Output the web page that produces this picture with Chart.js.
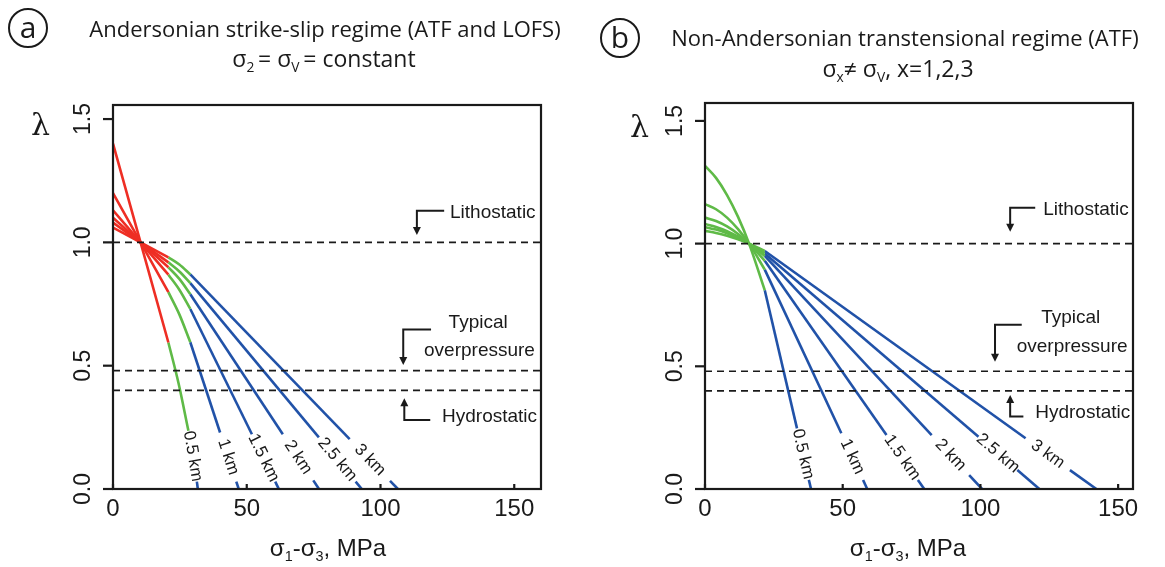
<!DOCTYPE html>
<html>
<head>
<meta charset="utf-8">
<script src="https://cdn.jsdelivr.net/npm/chart.js@4.4.1/dist/chart.umd.min.js"></script>
<style>
    body { margin: 0; background: #fff; width: 1165px; height: 567px; position: relative; overflow: hidden; }
    canvas { position: absolute; top: 0; }
    #chartA { left: 0; }
    #chartB { left: 580px; }
    .title { position: absolute; font-family: "Open Sans", Lato, sans-serif; font-size: 22px; color: #1a1a1a;
             white-space: nowrap; transform: translateX(-50%); line-height: 26px; }
    .sub2 { font-size: 23px; }
    .circ { position: absolute; width: 36px; height: 36px; border: 2px solid #1a1a1a; border-radius: 50%;
            font-family: "Open Sans", Lato, sans-serif; font-size: 30px; line-height: 33px; text-align: center; color: #1a1a1a; }
    .xtitle { position: absolute; font-family: "Liberation Sans", Arial, sans-serif; font-size: 24px; color: #1a1a1a;
              white-space: nowrap; transform: translateX(-50%); line-height: 26px; }
    .lam { position: absolute; font-family: "DejaVu Serif", serif; font-size: 30px; color: #1a1a1a; line-height: 30px; }
    sub { font-size: 60%; vertical-align: -0.35em; line-height: 0; }
</style>
</head>
<body>
<canvas id="chartA" width="580" height="567"></canvas>
<canvas id="chartB" width="585" height="567"></canvas>

<div class="circ" style="left:8px; top:8px;">a</div>
<div class="title" style="left:325px; top:15px;">Andersonian strike-slip regime (ATF and LOFS)</div>
<div class="title sub2" style="left:324px; top:45px;">σ<sub>2</sub>&thinsp;= σ<sub>V</sub>&thinsp;= constant</div>
<div class="circ" style="left:600px; top:18px;">b</div>
<div class="title" style="left:905px; top:24px;">Non-Andersonian transtensional regime (ATF)</div>
<div class="title sub2" style="left:898px; top:55px;">σ<sub>x</sub>≠ σ<sub>V</sub>, x=1,2,3</div>

<div class="lam" style="left:31px; top:110px;">λ</div>
<div class="lam" style="left:630px; top:112px;">λ</div>
<div class="xtitle" style="left:328px; top:535px;">σ<sub>1</sub>-σ<sub>3</sub>, MPa</div>
<div class="xtitle" style="left:908px; top:535px;">σ<sub>1</sub>-σ<sub>3</sub>, MPa</div>

<script>
const depthLabels = ['0.5 km', '1 km', '1.5 km', '2 km', '2.5 km', '3 km'];
const xTicks = [0, 50, 100, 150];
const yTicks = [0, 0.5, 1.0, 1.5];
const yTickLabels = ['0.0', '0.5', '1.0', '1.5'];
const levels = [1.0, 0.48, 0.40]; // lithostatic, typical overpressure, hydrostatic

// panel a: Andersonian strike-slip, [sigma1-sigma3 (MPa), lambda]
const aRed = [
    [[0, 1.40], [10.3, 1.0], [20.7, 0.594]],
    [[0, 1.20], [10.3, 1.0], [20.7, 0.798]],
    [[0, 1.13], [10.3, 1.0], [20.7, 0.869]],
    [[0, 1.10], [10.3, 1.0], [20.7, 0.899]],
    [[0, 1.08], [10.3, 1.0], [20.7, 0.919]],
    [[0, 1.06], [10.3, 1.0], [20.7, 0.939]]
];
const aGreen = [
    [[20.7, 0.594], [24.5, 0.429], [28.2, 0.236]],
    [[20.7, 0.798], [24.8, 0.708], [28.9, 0.595]],
    [[20.7, 0.869], [24.8, 0.808], [28.9, 0.730]],
    [[20.7, 0.899], [24.8, 0.852], [28.9, 0.790]],
    [[20.7, 0.919], [24.8, 0.882], [28.9, 0.835]],
    [[20.7, 0.939], [24.8, 0.910], [28.9, 0.870]]
];
const aBlueUpper = [
    [],
    [[28.9, 0.595], [40.03, 0.229]],
    [[28.9, 0.730], [51.93, 0.222]],
    [[28.9, 0.790], [63.48, 0.222]],
    [[28.9, 0.835], [76.96, 0.209]],
    [[28.9, 0.870], [88.48, 0.202]]
];
const aBlueLower = [
    [[31.35, 0.03], [31.7, 0]],
    [[46.09, 0.03], [47.0, 0]],
    [[60.64, 0.03], [62.0, 0]],
    [[74.87, 0.035], [77.0, 0]],
    [[90.7, 0.03], [93.0, 0]],
    [[103.56, 0.033], [106.5, 0]]
];

// panel b: non-Andersonian transtensional
const bGreen = [
    [[0, 1.317], [4, 1.268], [8, 1.198], [12, 1.109], [16, 1.0], [21.7, 0.81]],
    [[0, 1.161], [4, 1.140], [8, 1.106], [12, 1.059], [16, 1.0], [21.7, 0.894]],
    [[0, 1.106], [4, 1.092], [8, 1.070], [12, 1.039], [16, 1.0], [21.7, 0.93]],
    [[0, 1.080], [4, 1.068], [8, 1.051], [12, 1.028], [16, 1.0], [21.7, 0.95]],
    [[0, 1.067], [4, 1.057], [8, 1.042], [12, 1.023], [16, 1.0], [21.7, 0.96]],
    [[0, 1.052], [4, 1.0435], [8, 1.032], [12, 1.0175], [16, 1.0], [21.7, 0.97]]
];
const bBlueUpper = [
    [[21.7, 0.81], [33.4, 0.247]],
    [[21.7, 0.894], [49.5, 0.227]],
    [[21.7, 0.93], [65.9, 0.22]],
    [[21.7, 0.95], [82.3, 0.22]],
    [[21.7, 0.96], [99.3, 0.213]],
    [[21.7, 0.97], [116.4, 0.207]]
];
const bBlueLower = [
    [[37.7, 0.037], [38.5, 0]],
    [[57.4, 0.037], [58.9, 0]],
    [[77.3, 0.037], [79.6, 0]],
    [[95.9, 0.057], [100.6, 0]],
    [[113.4, 0.077], [121.4, 0]],
    [[132.5, 0.077], [142.1, 0]]
];

const RED = '#ee2e24';
const GREEN = '#5fba47';
const BLUE = '#2152a8';
const INK = '#1a1a1a';
const FONT = '"Liberation Sans", Arial, sans-serif';

// annotation arrows/texts, placed in data coordinates
const aNotes = {
    arrows: [
        { corner: [113.6, 1.128], end: [123.8, 1.128], tip: [113.6, 1.030] },
        { corner: [108.5, 0.647], end: [118.9, 0.647], tip: [108.5, 0.503] },
        { corner: [108.9, 0.280], end: [118.6, 0.280], tip: [108.9, 0.368] }
    ],
    texts: [
        { t: 'Lithostatic', at: [126, 1.119], align: 'left' },
        { t: 'Typical', at: [136.5, 0.673], align: 'center' },
        { t: 'overpressure', at: [137, 0.559], align: 'center' },
        { t: 'Hydrostatic', at: [123, 0.293], align: 'left' }
    ]
};
const bNotes = {
    arrows: [
        { corner: [110.8, 1.146], end: [119.9, 1.146], tip: [110.8, 1.048] },
        { corner: [105.3, 0.669], end: [115, 0.669], tip: [105.3, 0.519] },
        { corner: [110.8, 0.295], end: [115.6, 0.295], tip: [110.8, 0.383] }
    ],
    texts: [
        { t: 'Lithostatic', at: [122.8, 1.137], align: 'left' },
        { t: 'Typical', at: [132.8, 0.697], align: 'center' },
        { t: 'overpressure', at: [133.3, 0.580], align: 'center' },
        { t: 'Hydrostatic', at: [119.9, 0.310], align: 'left' }
    ]
};

function toPts(list) {
    return list.map(p => ({ x: p[0], y: p[1] }));
}

function segmentSets(lists, color, smooth) {
    return lists.filter(l => l.length).map(l => ({
        data: toPts(l),
        showLine: true,
        borderColor: color,
        borderWidth: 2.6,
        pointRadius: 0,
        tension: 0,
        cubicInterpolationMode: smooth ? 'monotone' : 'default',
        fill: false
    }));
}

function levelSets(xMax) {
    return levels.map(v => ({
        data: [{ x: 0, y: v }, { x: xMax, y: v }],
        showLine: true,
        borderColor: INK,
        borderWidth: 1.6,
        borderDash: [7, 5],
        pointRadius: 0,
        fill: false
    }));
}

function drawArrowHead(ctx, x, y, dir) {
    // dir: +1 pointing down, -1 pointing up
    ctx.beginPath();
    ctx.moveTo(x, y);
    ctx.lineTo(x - 4, y - 8 * dir);
    ctx.lineTo(x + 4, y - 8 * dir);
    ctx.closePath();
    ctx.fill();
}

function makeDecor(upperSets, lowerSets, notes) {
    return {
        id: 'decor',
        afterDatasetsDraw(chart) {
            const ctx = chart.ctx;
            const xs = chart.scales.x, ys = chart.scales.y;
            const area = chart.chartArea;
            const px = p => [xs.getPixelForValue(p[0]), ys.getPixelForValue(p[1])];
            ctx.save();

            // frame
            ctx.strokeStyle = INK;
            ctx.lineWidth = 2.2;
            ctx.strokeRect(area.left, area.top, area.right - area.left, area.bottom - area.top);

            // y ticks, outward, labels rotated
            ctx.fillStyle = INK;
            ctx.font = '23px ' + FONT;
            ctx.textAlign = 'center';
            ctx.textBaseline = 'middle';
            yTicks.forEach((v, i) => {
                const y = ys.getPixelForValue(v);
                ctx.beginPath();
                ctx.moveTo(area.left - 10, y);
                ctx.lineTo(area.left, y);
                ctx.stroke();
                ctx.save();
                ctx.translate(area.left - 30, y);
                ctx.rotate(-Math.PI / 2);
                ctx.fillText(yTickLabels[i], 0, 1);
                ctx.restore();
            });

            // x ticks, inward
            ctx.font = '24px ' + FONT;
            xTicks.forEach(v => {
                const x = xs.getPixelForValue(v);
                ctx.beginPath();
                ctx.moveTo(x, area.bottom);
                ctx.lineTo(x, area.bottom - 5);
                ctx.stroke();
                ctx.fillText(String(v), x, area.bottom + 20);
            });

            // depth labels in the gaps of the blue lines
            ctx.font = '17px ' + FONT;
            depthLabels.forEach((lab, i) => {
                const a = px(upperSets[i][upperSets[i].length - 1]);
                const b = px(lowerSets[i][0]);
                const ang = Math.atan2(b[1] - a[1], b[0] - a[0]);
                ctx.save();
                ctx.translate((a[0] + b[0]) / 2, (a[1] + b[1]) / 2);
                ctx.rotate(ang);
                ctx.fillText(lab, 0, 0);
                ctx.restore();
            });

            // bent arrows
            ctx.lineWidth = 2;
            notes.arrows.forEach(ar => {
                const c = px(ar.corner), e = px(ar.end), t = px(ar.tip);
                const dir = t[1] > c[1] ? 1 : -1;
                ctx.beginPath();
                ctx.moveTo(e[0], e[1]);
                ctx.lineTo(c[0], c[1]);
                ctx.lineTo(t[0], t[1] - 4 * dir);
                ctx.stroke();
                drawArrowHead(ctx, t[0], t[1], dir);
            });

            ctx.font = '19px ' + FONT;
            notes.texts.forEach(n => {
                const p = px(n.at);
                ctx.textAlign = n.align;
                ctx.fillText(n.t, p[0], p[1]);
            });
            ctx.restore();
        }
    };
}

function makeChart(id, xMax, yMax, padding, datasets, decor) {
    return new Chart(document.getElementById(id).getContext('2d'), {
        type: 'scatter',
        data: { datasets: datasets },
        options: {
            responsive: false,
            animation: false,
            devicePixelRatio: 1,
            layout: { padding: padding },
            scales: {
                x: { type: 'linear', min: 0, max: xMax, display: false },
                y: { type: 'linear', min: 0, max: yMax, display: false }
            },
            plugins: { legend: { display: false }, tooltip: { enabled: false } }
        },
        plugins: [decor]
    });
}

const aUpperForLabels = aBlueUpper.map((l, i) => l.length ? l : aGreen[i]);

makeChart('chartA', 160, 1.557,
    { left: 113, top: 105, right: 39, bottom: 78 },
    [].concat(levelSets(160),
              segmentSets(aRed, RED, false),
              segmentSets(aGreen, GREEN, true),
              segmentSets(aBlueUpper, BLUE, false),
              segmentSets(aBlueLower, BLUE, false)),
    makeDecor(aUpperForLabels, aBlueLower, aNotes));

makeChart('chartB', 155.4, 1.573,
    { left: 125, top: 103, right: 32, bottom: 78 },
    [].concat(levelSets(155.4),
              segmentSets(bGreen, GREEN, true),
              segmentSets(bBlueUpper, BLUE, false),
              segmentSets(bBlueLower, BLUE, false)),
    makeDecor(bBlueUpper, bBlueLower, bNotes));
</script>
</body>
</html>
